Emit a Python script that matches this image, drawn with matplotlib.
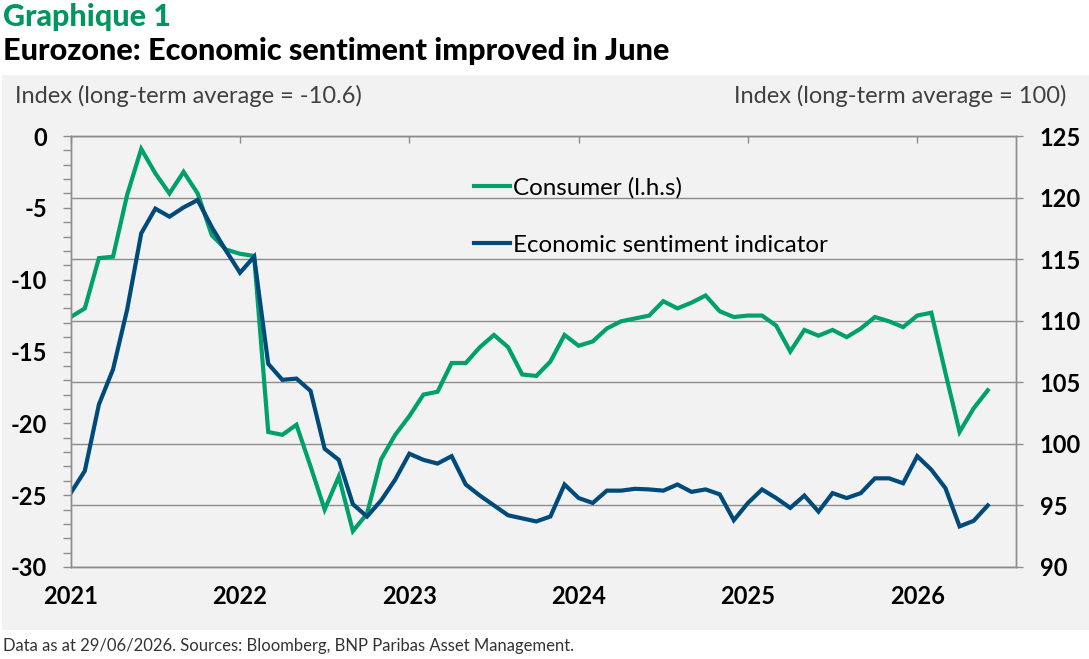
import numpy as np
import matplotlib
matplotlib.use("Agg")
import matplotlib.pyplot as plt
from matplotlib.patches import Rectangle
from matplotlib.ticker import MultipleLocator, FixedLocator

# ---- data (monthly, Jan 2021 .. Jun 2026) ----
years = ["2021", "2022", "2023", "2024", "2025", "2026"]
consumer = [-12.6, -12.0, -8.5, -8.4, -4.1, -0.9, -2.6, -4.0, -2.5, -4.0, -6.9, -7.9,
            -8.2, -8.35, -20.6, -20.8, -20.1, -23.0, -26.0, -23.7, -27.5, -26.3, -22.5, -20.8,
            -19.5, -18.0, -17.8, -15.8, -15.8, -14.7, -13.85, -14.7, -16.6, -16.7, -15.7, -13.85,
            -14.6, -14.3, -13.4, -12.9, -12.7, -12.5, -11.5, -12.0, -11.6, -11.1, -12.2, -12.6,
            -12.5, -12.5, -13.2, -15.0, -13.5, -13.9, -13.5, -14.0, -13.4, -12.6, -12.9, -13.3,
            -12.5, -12.3, -16.5, -20.6, -18.95, -17.7]
esi = [96.0, 97.8, 103.2, 106.05, 110.9, 117.1, 119.1, 118.45, 119.2, 119.8, 117.6, 115.7,
       113.9, 115.2, 106.5, 105.2, 105.3, 104.3, 99.6, 98.7, 95.1, 94.1, 95.4, 97.1,
       99.2, 98.7, 98.4, 99.0, 96.7, 95.8, 95.0, 94.2, 93.95, 93.7, 94.1, 96.7,
       95.6, 95.2, 96.2, 96.2, 96.35, 96.3, 96.2, 96.7, 96.1, 96.3, 95.9, 93.8,
       95.2, 96.3, 95.6, 94.8, 95.8, 94.5, 96.0, 95.6, 96.0, 97.2, 97.2, 96.8,
       99.0, 97.9, 96.4, 93.3, 93.75, 95.0]
series_labels = ["Consumer (l.h.s)", "Economic sentiment indicator"]
left_ticks = [-30, -25, -20, -15, -10, -5, 0]
right_ticks = [90, 95, 100, 105, 110, 115, 120, 125]

months = np.arange(len(consumer))
year_pos = [12 * i for i in range(len(years))]

GREEN = "#00A06B"
BLUE = "#004A7A"
GRID = "#8C8C8C"
BG = "#F2F2F2"
BODY = ["Lato", "DejaVu Sans"]

W, H = 1089, 659
fig = plt.figure(figsize=(W / 100, H / 100), dpi=100)
fig.patch.set_facecolor("white")
fig.add_artist(Rectangle((2 / W, 1 - 630 / H), (W - 2) / W, (630 - 75) / H,
                         transform=fig.transFigure, facecolor=BG, edgecolor="none", zorder=-10))

rect = [70.7 / W, 1 - 567 / H, (1016 - 70.7) / W, (567 - 136) / H]

# grid axes (bottom layer)
axg = fig.add_axes(rect, zorder=0)
axg.patch.set_visible(False)
axg.set_xlim(0, 67)
axg.set_ylim(90, 125)
axg.yaxis.set_major_locator(FixedLocator(right_ticks))
axg.grid(axis="y", color=GRID, lw=1.0)
axg.tick_params(left=False, bottom=False, labelleft=False, labelbottom=False)
for s in axg.spines.values():
    s.set_visible(False)

# left axis (consumer)
ax = fig.add_axes(rect, zorder=1)
ax.patch.set_visible(False)
ax.plot(months, consumer, color=GREEN, lw=3.0, solid_joinstyle="miter", label=series_labels[0])
ax.set_xlim(0, 67)
ax.set_ylim(-30, 0)
ax.yaxis.set_major_locator(FixedLocator(left_ticks))
ax.yaxis.set_minor_locator(MultipleLocator(1))
ax.set_yticklabels([str(v) for v in left_ticks])
ax.tick_params(axis="y", which="both", direction="out", length=5.8, width=1, color=GRID,
               labelsize=17, pad=11)
ax.set_xticks(year_pos)
ax.set_xticklabels(years)
ax.tick_params(axis="x", which="major", bottom=False, top=True, labelbottom=True, labeltop=False,
               direction="in", length=5, width=1, color=GRID, labelsize=17, pad=13)
for lab in ax.get_xticklabels() + ax.get_yticklabels():
    lab.set_family(BODY)
    lab.set_fontweight("bold")
for s in ax.spines.values():
    s.set_color(GRID)
    s.set_linewidth(1)

# right axis (ESI)
ax2 = ax.twinx()
ax2.plot(months, esi, color=BLUE, lw=3.0, solid_joinstyle="miter", label=series_labels[1])
ax2.set_ylim(90, 125)
ax2.yaxis.set_major_locator(FixedLocator(right_ticks))
ax2.tick_params(axis="y", direction="out", length=5, width=1, color=GRID, labelsize=17, pad=12)
for lab in ax2.get_yticklabels():
    lab.set_family(BODY)
    lab.set_fontweight("bold")
for s in ax2.spines.values():
    s.set_color(GRID)
    s.set_linewidth(1)

h1, l1 = ax.get_legend_handles_labels()
h2, l2 = ax2.get_legend_handles_labels()
leg = ax2.legend(h1 + h2, l1 + l2, loc="upper left",
                 bbox_to_anchor=(474 / W, 1 - 177 / H), bbox_transform=fig.transFigure,
                 frameon=False, prop={"family": BODY, "size": 17.4},
                 handlelength=1.49, handletextpad=0.12, labelspacing=1.5,
                 borderpad=0, borderaxespad=0)

# titles and labels
fig.text(3 / W, 1 - 26 / H, "Graphique 1", family=BODY, fontweight="black", fontsize=22,
         color="#00965E", ha="left", va="baseline")
fig.text(3 / W, 1 - 60 / H, "Eurozone: Economic sentiment improved in June", family=BODY,
         fontweight="black", fontsize=22.1, color="black", ha="left", va="baseline")
fig.text(15 / W, 1 - 103 / H, "Index (long-term average = -10.6)", family=BODY,
         fontsize=17, color="#404040", ha="left", va="baseline")
fig.text(1066 / W, 1 - 103 / H, "Index (long-term average = 100)", family=BODY,
         fontsize=17, color="#404040", ha="right", va="baseline")
fig.text(3 / W, 1 - 651 / H,
         "Data as at 29/06/2026. Sources: Bloomberg, BNP Paribas Asset Management.",
         family=BODY, fontsize=12.0, color="#333333", ha="left", va="baseline")

fig.savefig("out.png", dpi=100, facecolor=fig.get_facecolor())
